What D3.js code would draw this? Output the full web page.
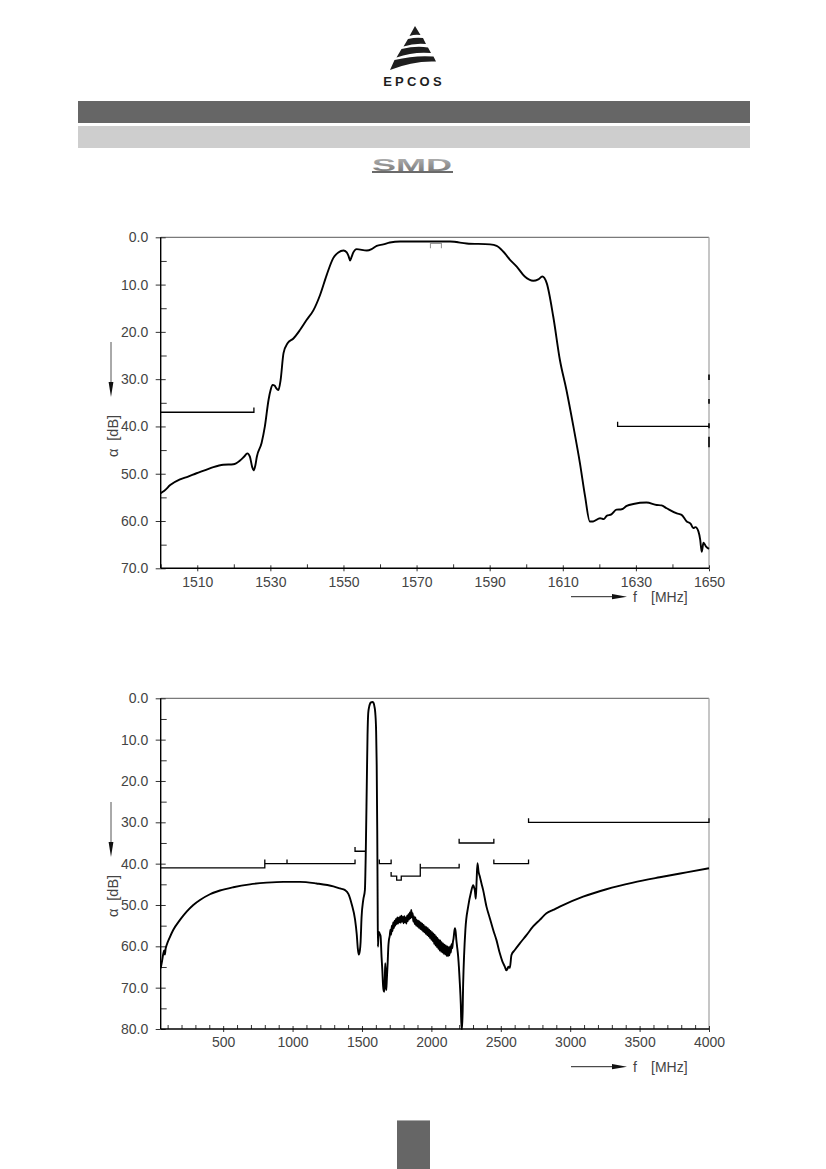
<!DOCTYPE html>
<html><head><meta charset="utf-8">
<script src="https://cdn.jsdelivr.net/npm/d3@7"></script>
<style>body{margin:0;background:#fff}svg{display:block}</style>
</head><body>
<svg id="page" width="826" height="1169"></svg>
<script>
// ---------- DATA ----------
// Chart 1: passband detail
const topFreq = [1500,1501,1502.6,1505.3,1507.5,1509.8,1512,1514.4,1517.1,1519.9,1521.7,1522.8,1523.7,1524.4,1525,1525.4,1525.9,1526.3,1527.6,1528.5,1529.5,1530.1,1530.6,1531.2,1531.6,1532.2,1532.8,1533.6,1534.7,1536.3,1538.1,1539.9,1541.8,1543.6,1545.4,1547.2,1548.6,1550.0,1550.9,1551.4,1551.8,1552.2,1552.7,1553.6,1556.4,1557.7,1559.1,1560.9,1562.7,1565.5,1574.6,1579.2,1583.7,1590.1,1591.9,1593.7,1595.5,1597.4,1599.6,1601.9,1603.3,1604.4,1605.6,1607.4,1609.2,1611.0,1612.9,1614.7,1616.1,1617.4,1618.3,1620.2,1621.2,1622.0,1623.3,1624.7,1626.1,1627.5,1629.3,1632.9,1635.7,1637.0,1638.4,1641.2,1642.5,1643.9,1645.0,1645.7,1646.3,1647.1,1647.6,1648.0,1648.5,1649.2,1650];
const topAtt  = [54.1,53.6,52.4,51.2,50.6,49.9,49.3,48.6,48.1,48.0,47.2,46.4,45.7,46.4,48.5,49.3,48.2,46.4,43.5,40.0,34.4,32.2,31.2,31.4,31.9,32.3,30.2,24.5,22.4,21.4,19.6,17.5,15.4,12.2,8.0,4.4,3.2,2.8,3.2,4.0,4.9,4.2,3.2,2.5,2.8,2.5,1.8,1.5,1.1,0.9,0.9,0.9,1.3,1.5,1.8,3.0,4.7,6.2,8.3,9.2,8.9,8.3,9.7,16.8,25.9,32.3,40.0,47.8,54.8,60.1,60.1,59.4,59.6,58.9,58.6,57.6,57.5,56.8,56.4,56.1,56.6,56.7,57.3,58.4,58.7,60.1,60.6,61.5,61.3,62.2,64.0,66.5,64.6,65.4,65.9];
const topXMajor = [1510,1530,1550,1570,1590,1610,1630,1650];
const topXMinor = [1500,1520,1540,1560,1580,1600,1620,1640];
const topYMajor = [0,10,20,30,40,50,60,70];
const topYMinor = [5,15,25,35,45,55,65];
// tolerance scheme (f MHz, att dB)
const topSpecLeft  = [[1500,37],[1525.5,37],[1525.5,36]];
const topSpecRight = [[1650,40],[1625,40],[1625,39]];
const topSpecPass  = [[1573.8,2.3],[1573.8,1.3],[1576.8,1.3],[1576.8,2.3]];
const topRightMarks = [[29,30.2],[34.2,35.2],[39.3,40.4],[42.2,44.4]];

// Chart 2: wideband
const botFreq = [50,60,69,75,80,86,93,117,141,189,237,285,333,405,477,573,693,813,933,1053,1173,1294,1342,1378,1402,1426,1450,1462,1470,1477,1485,1490,1497,1509,1521,1528,1535,1540,1545,1552,1557,1565,1575,1583,1590,1596,1602,1606,1610,1613,1615,1618,1622,1628,1634,1641,1647,1652,1657,1661,1665,1668,1672,1675,1679,1685,1690,1694,
 1700,1705,1710,1715,1720,1725,1730,1735,1740,1745,1750,1755,1760,1765,1770,1775,1780,1785,1790,1795,1800,1805,1810,1815,1820,1825,1830,1835,1840,1845,1850,1855,1860,1865,1870,1875,1880,1885,1890,1895,1900,1905,1910,1915,1920,1925,1930,1935,1940,1945,1950,1955,1960,1965,1970,1975,1980,1985,1990,1995,2000,2005,2010,2015,2020,2025,2030,2035,2040,2045,2050,2055,2060,2065,2070,2075,2080,2085,2090,2095,2100,2105,2110,2115,2120,2125,2130,2135,2140,2145,2150,2155,2160,2165,2170,2175,2180,2185,2193,2205,2212,2217,2222,2229,2245,2265,2285,2301,2308,2313,2320,2326,2332,2340,2349,2361,2373,2397,2421,2445,2469,2493,2512,2529,2540,2546,2555,2565,2577,2601,2637,2685,2733,2781,2829,2877,2925,3093,3261,3453,3645,3837,4000];
const botAtt = [65.3,63.5,61.7,61.0,62.0,60.5,59.7,57.7,56.0,53.6,51.6,50.0,48.8,47.4,46.5,45.7,45.0,44.6,44.4,44.4,44.8,45.5,46.0,46.4,47.3,49.8,53.5,57.0,60.5,62.0,61.0,59.0,53.0,48.8,46.4,36.0,20.0,9.0,3.6,2.0,1.4,1.0,0.9,1.1,2.0,3.6,8.0,16.0,32.0,50.0,60.1,58.0,56.5,57.0,57.5,62.5,66.0,69.5,70.8,71.0,67.0,64.1,68.0,70.6,68.0,64.1,60.0,58.5,
 57.5,56.0,57.2,55.0,56.3,54.2,55.6,53.8,55.0,53.4,54.6,53.0,54.5,53.1,54.2,52.8,54.3,52.6,54.0,52.9,54.4,52.7,54.2,53.0,54.5,52.6,53.9,52.2,53.5,51.8,53.2,51.2,53.0,52.0,54.0,52.8,54.6,53.0,55.0,53.6,55.2,53.8,55.5,54.0,55.8,54.3,56.0,54.5,56.4,54.8,56.6,55.2,57.0,55.4,57.3,55.6,57.6,56.0,58.0,56.3,58.4,56.6,58.8,56.9,59.4,57.2,59.8,57.6,60.2,58.0,60.6,58.4,61.0,58.6,61.3,59.0,61.5,59.3,61.8,59.6,62.0,59.8,62.3,60.0,62.4,60.2,62.2,60.0,61.5,59.5,60.5,59.0,58.0,56.5,55.6,56.5,58.5,60.0,62.5,69.0,74.0,80.0,80.0,69.0,56.0,50.4,47.0,45.2,45.8,46.4,48.5,44.0,39.9,42.0,43.1,44.8,46.4,50.4,53.2,56.0,58.5,61.7,63.7,64.9,65.8,65.6,64.9,65.2,62.1,60.9,59.3,57.3,55.2,53.6,52.0,51.2,50.4,48.0,46.2,44.6,43.3,42.1,41.1];
const botXMajor = [500,1000,1500,2000,2500,3000,3500,4000];
const botXMinor = [100,200,300,400,600,700,800,900,1100,1200,1300,1400,1600,1700,1800,1900,2100,2200,2300,2400,2600,2700,2800,2900,3100,3200,3300,3400,3600,3700,3800,3900];
const botYMajor = [0,10,20,30,40,50,60,70,80];
const botYMinor = [5,15,25,35,45,55,65,75];
const botSpecs = [
  [[50,41],[800,41],[800,39]],
  [[800,40],[1450,40],[1450,39]],
  [[960,40],[960,39]],
  [[1450,36],[1450,37],[1525,37]],
  [[1625,39],[1625,40],[1710,40],[1710,39]],
  [[1710,42],[1710,43],[1750,43],[1750,44],[1783,44],[1783,43],[1920,43],[1920,40]],
  [[1920,41],[2200,41],[2200,40]],
  [[2200,34],[2200,35],[2450,35],[2450,34]],
  [[2450,39],[2450,40],[2700,40],[2700,39]],
  [[2700,29],[2700,30],[4000,30],[4000,29]]
];

// ---------- DRAW ----------
const svg = d3.select('#page');
const FONT = "'Liberation Sans', Arial, sans-serif";

// header logo
const logo = svg.append('g').attr('fill','#1e1e1e');
[
 "M415,26 L420.5,35 Q415,34 409.5,36 Z",
 "M408,39 Q416,37 423,38 L426,44 Q414,43 403.5,46.5 Z",
 "M401.5,49 Q416,45.5 428,47.5 L431,53 Q413,51.5 396.5,57.5 Z",
 "M394.5,60 Q415,55 433.5,56.5 L436,61.5 Q413,60.5 390,70 Z"
].forEach(d=>logo.append('path').attr('d',d));
svg.append('text').attr('x',414).attr('y',86).attr('text-anchor','middle')
  .attr('font-family',FONT).attr('font-weight','bold').attr('font-size',13)
  .attr('letter-spacing',3.2).attr('fill','#1e1e1e').text('EPCOS');

// header bars
svg.append('rect').attr('x',78).attr('y',101).attr('width',672).attr('height',22).attr('fill','#666');
svg.append('rect').attr('x',78).attr('y',126).attr('width',672).attr('height',22).attr('fill','#cecece');

// SMD mark
const grad = svg.append('defs').append('linearGradient').attr('id','smdg').attr('x1',0).attr('y1',0).attr('x2',0).attr('y2',1);
grad.append('stop').attr('offset','0').attr('stop-color','#b8b8b8');
grad.append('stop').attr('offset','1').attr('stop-color','#707070');
svg.append('text').attr('x',372).attr('y',170.5).attr('font-family',FONT).attr('font-weight','bold')
  .attr('font-size',17).attr('textLength',80).attr('lengthAdjust','spacingAndGlyphs')
  .attr('fill','url(#smdg)').text('SMD');
svg.append('rect').attr('x',372).attr('y',171).attr('width',81).attr('height',2).attr('fill','#6a6a6a');

// page number box
svg.append('rect').attr('x',397).attr('y',1120).attr('width',33).attr('height',49).attr('fill','#666');
svg.append('rect').attr('x',397).attr('y',1120).attr('width',33).attr('height',1).attr('fill','#aaa');

function drawChart(o){
  const g = svg.append('g');
  const x = d3.scaleLinear().domain(o.xd).range([160.7,709]);
  const y = d3.scaleLinear().domain(o.yd).range([o.y0,o.y1]);
  const id = 'clip'+o.key;
  g.append('clipPath').attr('id',id).append('rect')
    .attr('x',160.7).attr('y',o.y0-1).attr('width',709-160.7+1).attr('height',o.y1-o.y0+2);

  // frame top/right
  g.append('line').attr('x1',160.7).attr('x2',709).attr('y1',o.y0).attr('y2',o.y0).attr('stroke','#7a7a7a').attr('stroke-width',1.2);
  g.append('line').attr('x1',709).attr('x2',709).attr('y1',o.y0).attr('y2',o.y1).attr('stroke','#a8a8a8').attr('stroke-width',1.3);

  const styleAxis = sel => {
    sel.select('.domain').remove();
    sel.selectAll('line').attr('stroke','#333').attr('stroke-width',1);
    sel.selectAll('text').attr('font-family',FONT).attr('font-size',14).attr('fill','#444');
  };
  // y axis
  g.append('g').attr('transform',`translate(160.7,0)`)
    .call(d3.axisLeft(y).tickValues(o.yMajor).tickSize(5).tickPadding(7.5).tickFormat(d3.format('.1f'))).call(styleAxis);
  g.append('g').attr('transform',`translate(160.7,0)`)
    .call(d3.axisLeft(y).tickValues(o.yMajor).tickSize(-5).tickFormat('')).call(styleAxis);
  g.append('g').attr('transform',`translate(160.7,0)`)
    .call(d3.axisLeft(y).tickValues(o.yMinor).tickSize(-6).tickFormat('')).call(styleAxis);
  // x axis
  g.append('g').attr('transform',`translate(0,${o.y1})`)
    .call(d3.axisBottom(x).tickValues(o.xMajor).tickSize(3).tickPadding(5.4).tickFormat(d3.format('d'))).call(styleAxis);
  g.append('g').attr('transform',`translate(0,${o.y1})`)
    .call(d3.axisBottom(x).tickValues(o.xMajor).tickSize(-3).tickFormat('')).call(styleAxis);
  g.append('g').attr('transform',`translate(0,${o.y1})`)
    .call(d3.axisBottom(x).tickValues(o.xMinor).tickSize(-4).tickFormat('')).call(styleAxis);
  // axis lines
  g.append('line').attr('x1',160.7).attr('x2',160.7).attr('y1',o.y0).attr('y2',o.y1).attr('stroke','#000').attr('stroke-width',1.4);
  g.append('line').attr('x1',160.7).attr('x2',709).attr('y1',o.y1).attr('y2',o.y1).attr('stroke','#000').attr('stroke-width',1.4);

  // spec lines
  const ln = d3.line().x(d=>x(d[0])).y(d=>y(d[1]));
  o.specs.forEach(s=>g.append('path').attr('d',ln(s)).attr('fill','none').attr('stroke','#000').attr('stroke-width',1.3));
  if(o.gray) o.gray.forEach(s=>g.append('path').attr('d',ln(s)).attr('fill','none').attr('stroke','#999').attr('stroke-width',1.1));
  if(o.marks) o.marks.forEach(m=>g.append('line').attr('x1',x(o.xd[1])).attr('x2',x(o.xd[1]))
     .attr('y1',y(m[0])).attr('y2',y(m[1])).attr('stroke','#000').attr('stroke-width',1.6));

  // curve
  const data = o.f.map((f,i)=>[f,o.a[i]]);
  const cl = d3.line().x(d=>x(d[0])).y(d=>y(d[1])).curve(d3.curveMonotoneX);
  g.append('path').attr('d',cl(data)).attr('clip-path',`url(#${id})`).attr('fill','none')
    .attr('stroke','#000').attr('stroke-width',1.9).attr('stroke-linejoin','round');

  // y label with arrow
  g.append('line').attr('x1',111).attr('x2',111).attr('y1',o.arrY).attr('y2',o.arrY+42).attr('stroke','#555').attr('stroke-width',1);
  g.append('path').attr('d',`M108.6,${o.arrY+40} L113.4,${o.arrY+40} L111,${o.arrY+55} Z`).attr('fill','#111');
  g.append('text').attr('transform',`translate(118,${o.labY}) rotate(-90)`).attr('text-anchor','middle')
    .attr('font-family',FONT).attr('font-size',14.5).attr('fill','#444').attr('style','white-space:pre').text('α  [dB]');
  // x label with arrow
  g.append('line').attr('x1',571).attr('x2',616).attr('y1',o.xArrY).attr('y2',o.xArrY).attr('stroke','#222').attr('stroke-width',1);
  g.append('path').attr('d',`M612,${o.xArrY-2.6} L612,${o.xArrY+2.6} L627,${o.xArrY} Z`).attr('fill','#111');
  g.append('text').attr('x',633).attr('y',o.xArrY+5).attr('font-family',FONT).attr('font-size',14).attr('fill','#444').text('f');
  g.append('text').attr('x',651).attr('y',o.xArrY+5).attr('font-family',FONT).attr('font-size',14).attr('fill','#444').text('[MHz]');
}

drawChart({key:'t', xd:[1500,1650], yd:[0,70], y0:237.3, y1:568.3,
  xMajor:topXMajor, xMinor:topXMinor, yMajor:topYMajor, yMinor:topYMinor,
  f:topFreq, a:topAtt, specs:[topSpecLeft,topSpecRight], gray:[topSpecPass], marks:topRightMarks,
  arrY:342, labY:436, xArrY:596.7});
drawChart({key:'b', xd:[50,4000], yd:[0,80], y0:698.3, y1:1029,
  xMajor:botXMajor, xMinor:botXMinor, yMajor:botYMajor, yMinor:botYMinor,
  f:botFreq, a:botAtt, specs:botSpecs,
  arrY:802, labY:896, xArrY:1066.7});
</script>
</body></html>
